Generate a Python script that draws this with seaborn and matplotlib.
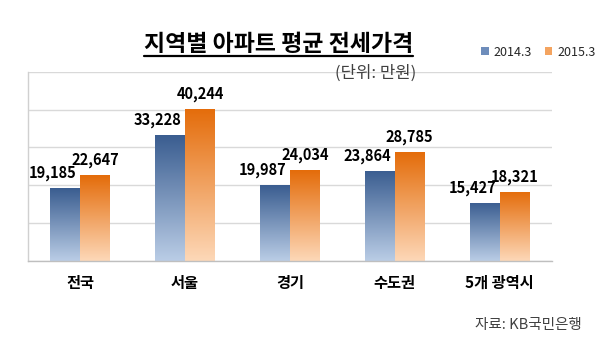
import numpy as np
import pandas as pd
import matplotlib
matplotlib.use("Agg")
import matplotlib.pyplot as plt
from matplotlib.colors import LinearSegmentedColormap
from matplotlib.lines import Line2D
from matplotlib.patches import Patch
import seaborn as sns

categories = ["전국", "서울", "경기", "수도권", "5개 광역시"]
series_names = ["2014.3", "2015.3"]
values_2014 = [19185, 33228, 19987, 23864, 15427]
values_2015 = [22647, 40244, 24034, 28785, 18321]

title = "지역별 아파트 평균 전세가격"
unit_text = "(단위: 만원)"
source_text = "자료: KB국민은행"

df = pd.DataFrame({
    "region": categories * 2,
    "period": [series_names[0]] * 5 + [series_names[1]] * 5,
    "value": values_2014 + values_2015,
})

sns.set_theme(style="white")
plt.rcParams["font.family"] = ["Noto Sans CJK KR", "DejaVu Sans"]

top_colors = {"2014.3": "#3A5D90", "2015.3": "#E46C0A"}
bot_colors = {"2014.3": "#BACDE6", "2015.3": "#FDD8B8"}
mid_colors = {"2014.3": "#6E8DBB", "2015.3": "#F4A460"}

fig = plt.figure(figsize=(6.0, 3.59), dpi=100)
ax = fig.add_axes([0.0462, 0.273, 0.8738, 0.5273])

sns.barplot(data=df, x="region", y="value", hue="period", order=categories,
            hue_order=series_names, palette=mid_colors, width=0.57,
            ax=ax, legend=False, saturation=1)

ax.set_ylim(0, 50000)
ax.set_yticks(np.arange(0, 50001, 10000))
ax.set_yticklabels([])
ax.grid(axis="y", color="#D9D9D9", linewidth=1)
ax.set_axisbelow(True)
ax.set_xlabel("")
ax.set_ylabel("")
for s in ["top", "right"]:
    ax.spines[s].set_visible(False)
ax.spines["left"].set_color("#D0D0D0")
ax.spines["bottom"].set_color("#BFBFBF")
ax.spines["left"].set_linewidth(1)
ax.spines["bottom"].set_linewidth(1)
ax.tick_params(axis="both", length=0)
ax.tick_params(axis="x", pad=10, labelsize=11)
for lab in ax.get_xticklabels():
    lab.set_fontweight("bold")
    lab.set_color("#000000")

# gradient fill for each bar
for container, name in zip(ax.containers, series_names):
    cmap = LinearSegmentedColormap.from_list(name, [bot_colors[name], top_colors[name]])
    for bar in container:
        x0, y0 = bar.get_x(), bar.get_y()
        w, h = bar.get_width(), bar.get_height()
        grad = np.linspace(0, 1, 256).reshape(-1, 1)
        im = ax.imshow(grad, cmap=cmap, aspect="auto", origin="lower",
                       extent=[x0, x0 + w, y0, y0 + h], zorder=2,
                       interpolation="bilinear")
        im.set_clip_path(bar)
        bar.set_facecolor("none")
        bar.set_edgecolor("none")
ax.set_xlim(-0.5, len(categories) - 0.5)
ax.set_ylim(0, 50000)

# value labels
for container, name, vals in zip(ax.containers, series_names, [values_2014, values_2015]):
    dx = -9 if name == "2014.3" else 0
    for bar, v in zip(container, vals):
        ax.annotate(f"{v:,}", (bar.get_x() + bar.get_width() / 2, bar.get_height()),
                    xytext=(dx, 7.5), textcoords="offset points", ha="center",
                    va="baseline", fontsize=10.5, fontweight="bold", color="#000000",
                    zorder=5)

# title with underline
t = fig.text(0.464, 0.877, title, ha="center", va="center", fontsize=16.5,
             fontweight="bold", color="#000000")
fig.text(0.626, 0.795, unit_text, ha="center", va="center", fontsize=12,
         color="#404040")
fig.text(0.97, 0.095, source_text, ha="right", va="center", fontsize=10.5,
         color="#404040")

handles = [Patch(facecolor=mid_colors[n], edgecolor="none") for n in series_names]
fig.legend(handles, series_names, loc="center left", bbox_to_anchor=(0.802, 0.855),
           frameon=False, fontsize=9, handlelength=0.6, handleheight=0.6,
           handletextpad=0.4, columnspacing=1.0, ncol=2, borderaxespad=0,
           borderpad=0, labelcolor="#262626")

fig.canvas.draw()
bb = t.get_window_extent(fig.canvas.get_renderer())
inv = fig.transFigure.inverted()
(x0f, y0f), (x1f, y1f) = inv.transform([[bb.x0, bb.y0], [bb.x1, bb.y1]])
fig.add_artist(Line2D([x0f, x1f], [0.845, 0.845], transform=fig.transFigure,
                      color="#000000", linewidth=1.6))

fig.savefig("out.png", dpi=100)
